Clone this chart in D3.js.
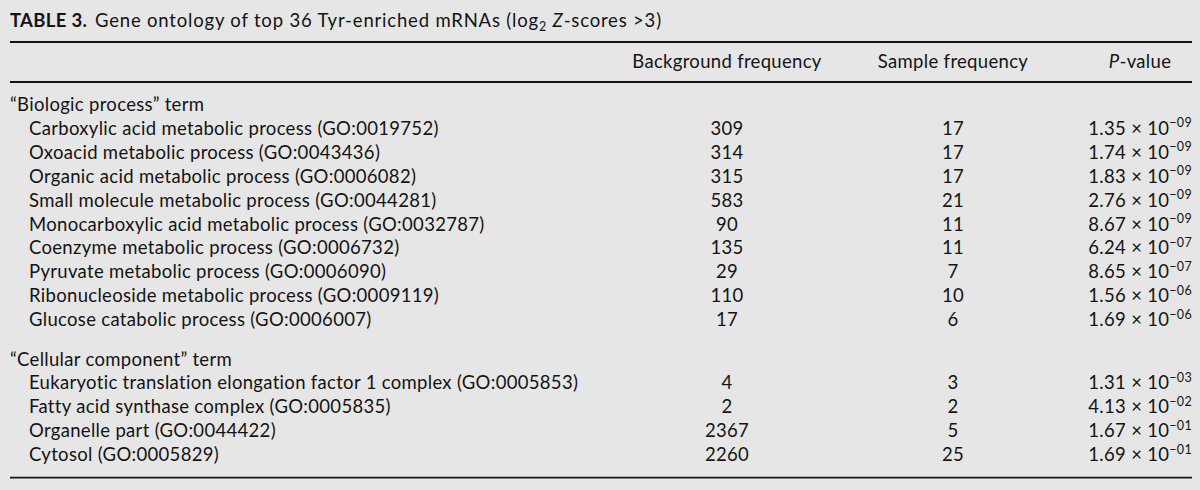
<!DOCTYPE html>
<html>
<head>
<meta charset="utf-8">
<script src="https://cdn.jsdelivr.net/npm/d3@7"></script>
<style>
  html, body { margin: 0; padding: 0; background: #e6e6e6; }
  svg { display: block; }
  text { font-family: Lato, "Open Sans", sans-serif; fill: #141414; }
</style>
</head>
<body>
<svg id="chart" width="1200" height="490"></svg>
<script>
// ---------- data ----------
const tableLabel = "TABLE 3.";
const titleText = "Gene ontology of top 36 Tyr-enriched mRNAs (log";
const columnHeaders = ["Background frequency", "Sample frequency", "P-value"];
const sectionLabels = ["\u201CBiologic process\u201D term", "\u201CCellular component\u201D term"];

const bioTerms = [
  "Carboxylic acid metabolic process (GO:0019752)",
  "Oxoacid metabolic process (GO:0043436)",
  "Organic acid metabolic process (GO:0006082)",
  "Small molecule metabolic process (GO:0044281)",
  "Monocarboxylic acid metabolic process (GO:0032787)",
  "Coenzyme metabolic process (GO:0006732)",
  "Pyruvate metabolic process (GO:0006090)",
  "Ribonucleoside metabolic process (GO:0009119)",
  "Glucose catabolic process (GO:0006007)"
];
const bioBackground = [309, 314, 315, 583, 90, 135, 29, 110, 17];
const bioSample = [17, 17, 17, 21, 11, 11, 7, 10, 6];
const bioPMantissa = ["1.35", "1.74", "1.83", "2.76", "8.67", "6.24", "8.65", "1.56", "1.69"];
const bioPExponent = ["09", "09", "09", "09", "09", "07", "07", "06", "06"];

const cellTerms = [
  "Eukaryotic translation elongation factor 1 complex (GO:0005853)",
  "Fatty acid synthase complex (GO:0005835)",
  "Organelle part (GO:0044422)",
  "Cytosol (GO:0005829)"
];
const cellBackground = [4, 2, 2367, 2260];
const cellSample = [3, 2, 5, 25];
const cellPMantissa = ["1.31", "4.13", "1.67", "1.69"];
const cellPExponent = ["03", "02", "01", "01"];

// ---------- layout ----------
const svg = d3.select("#chart");
const left = 10, right = 1192, indent = 29;
const fs = 18.5;

// fit letter-spacing so that a reference label prefix has the width seen in the original
const probe = svg.append("text").style("font-size", fs + "px").text("Carboxylic acid metabolic process (GO:0019");
const pw = probe.node().getComputedTextLength();
probe.remove();
const ls = Math.max(-0.5, Math.min(1.2, (371 - pw) / 41));
svg.style("letter-spacing", ls + "px");

// build row list
const rows = [];
let slot = 0;
rows.push({type: "section", label: sectionLabels[0], slot: slot++});
bioTerms.forEach((t, i) => rows.push({type: "row", label: t, bg: bioBackground[i], s: bioSample[i], m: bioPMantissa[i], e: bioPExponent[i], slot: slot++}));
slot += 0.65;
rows.push({type: "section", label: sectionLabels[1], slot: slot++});
cellTerms.forEach((t, i) => rows.push({type: "row", label: t, bg: cellBackground[i], s: cellSample[i], m: cellPMantissa[i], e: cellPExponent[i], slot: slot++}));
const lastSlot = slot - 1;

const pitch = 23.9;
const y = d3.scaleLinear().domain([0, 1]).range([111, 111 + pitch]);
const colX = d3.scaleOrdinal().domain(["bg", "s", "p"]).range([727, 953, 1140]);

// title
const title = svg.append("text").attr("x", left).attr("y", 27).style("font-size", fs + "px");
title.append("tspan").style("font-weight", "bold").text(tableLabel);
const tRest = title.append("tspan").attr("x", 95).style("letter-spacing", (ls + 0.5) + "px");
tRest.append("tspan").text(titleText);
tRest.append("tspan").attr("dy", 4).style("font-size", "12.5px").text("2");
tRest.append("tspan").attr("dy", -4).text(" ");
tRest.append("tspan").style("font-style", "italic").text("Z");
tRest.append("tspan").text("-scores >3)");

// rules
const rule = (yy, w) => svg.append("line").attr("x1", left).attr("x2", right)
  .attr("y1", yy).attr("y2", yy).attr("stroke", "#141414").attr("stroke-width", w);
rule(42, 1.8);
rule(82, 1.8);
rule(y(lastSlot) + 16.5, 1.8);

// headers
const hdrY = 68;
svg.append("text").attr("x", colX("bg")).attr("y", hdrY).attr("text-anchor", "middle")
  .style("font-size", fs + "px").text(columnHeaders[0]);
svg.append("text").attr("x", colX("s")).attr("y", hdrY).attr("text-anchor", "middle")
  .style("font-size", fs + "px").text(columnHeaders[1]);
const ph = svg.append("text").attr("x", colX("p")).attr("y", hdrY).attr("text-anchor", "middle")
  .style("font-size", fs + "px");
ph.append("tspan").style("font-style", "italic").text(columnHeaders[2].slice(0, 1));
ph.append("tspan").text(columnHeaders[2].slice(1));

// body
const g = svg.append("g");
const rsel = g.selectAll("g.r").data(rows).join("g").attr("class", "r")
  .attr("transform", d => `translate(0,${y(d.slot)})`);

rsel.append("text")
  .attr("x", d => d.type === "section" ? left : indent)
  .style("font-size", fs + "px")
  .text(d => d.label);

const dr = rsel.filter(d => d.type === "row");
dr.append("text").attr("x", colX("bg")).attr("text-anchor", "middle").style("font-size", fs + "px").text(d => d.bg);
dr.append("text").attr("x", colX("s")).attr("text-anchor", "middle").style("font-size", fs + "px").text(d => d.s);
const pv = dr.append("text").attr("x", right).attr("text-anchor", "end").style("font-size", fs + "px");
pv.append("tspan").text(d => d.m + " \u00D7 10");
pv.append("tspan").attr("dy", -7.5).style("font-size", "12.5px").text(d => "\u2212" + d.e);
</script>
</body>
</html>
